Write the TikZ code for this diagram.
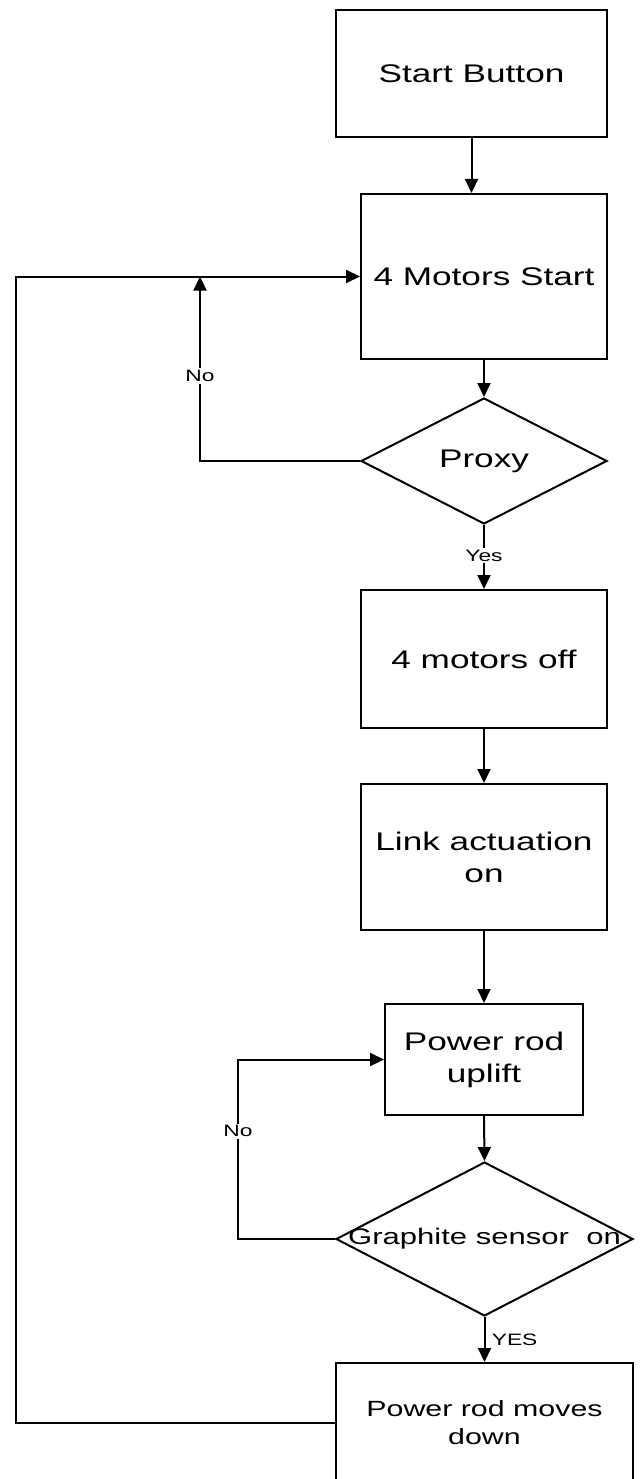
\documentclass[tikz,border=0pt]{standalone}
\usepackage{fontspec}
\setmainfont{Liberation Sans}[FakeStretch=1.38]
\usetikzlibrary{shapes.geometric,arrows.meta}
\begin{document}
\begin{tikzpicture}[x=1pt,y=-1pt,
  line width=2pt,
  box/.style={draw, rectangle, align=center, inner sep=0pt, font=\fontsize{25.5}{32}\selectfont},
  dec/.style={draw, diamond, inner sep=0pt, aspect=2},
  arr/.style={-{Triangle[length=14pt,width=13pt]}},
  lab/.style={fill=white, inner sep=2pt, font=\fontsize{16.5}{19}\selectfont}
]
\useasboundingbox (0,0) rectangle (640,1479);

\node[box, minimum width=271pt, minimum height=127pt] (start) at (471.5,73.5) {Start Button};
\node[box, minimum width=246pt, minimum height=165pt] (motors) at (484,276.5) {4 Motors Start};
\node[dec, minimum width=246pt, minimum height=126pt, font=\fontsize{25.5}{32}\selectfont] (proxy) at (484,461) {\makebox[0pt]{Proxy}};
\node[box, minimum width=246pt, minimum height=138pt] (off) at (484,659) {4 motors off};
\node[box, minimum width=246pt, minimum height=146pt] (link) at (484,857) {Link actuation\\on};
\node[box, minimum width=198pt, minimum height=111pt] (uplift) at (484,1059.5) {Power rod\\uplift};
\node[dec, minimum width=297pt, minimum height=154pt, font=\fontsize{22.5}{28}\selectfont] (graph) at (484.5,1239) {\makebox[0pt]{Graphite sensor\ \ on}};
\node[box, minimum width=297pt, minimum height=120pt, font=\fontsize{22}{28}\selectfont] (down) at (484.5,1423) {Power rod moves\\down};

\coordinate (lc1) at (16,1423);
\coordinate (lc2) at (16,276.5);
\coordinate (pn1) at (200,461);
\coordinate (pn2) at (200,276.5);
\coordinate (gn1) at (238,1239);
\coordinate (gn2) at (238,1059.5);

\draw[arr] (start.south) -- (start.south |- motors.north);
\draw[arr] (motors.south) -- (proxy.north);
\draw[arr] (proxy.south) -- node[lab, pos=0.48] (yes) {Yes} (off.north);
\draw[arr] (off.south) -- (link.north);
\draw[arr] (link.south) -- (uplift.north);
\draw[arr] (uplift.south) -- (graph.north);
\draw[arr] (graph.south) -- node[right, xshift=3pt, font=\fontsize{16.5}{19}\selectfont] (yes2) {YES} (down.north);

\draw[arr] (proxy.west) -- (pn1) -- node[lab, pos=0.46] (no1) {No} (pn2);
\draw[arr] (graph.west) -- (gn1) -- node[lab, pos=0.6] (no2) {No} (gn2) -- (uplift.west);
\draw[arr] (down.west) -- (lc1) -- (lc2) -- (motors.west);
\end{tikzpicture}
\end{document}
